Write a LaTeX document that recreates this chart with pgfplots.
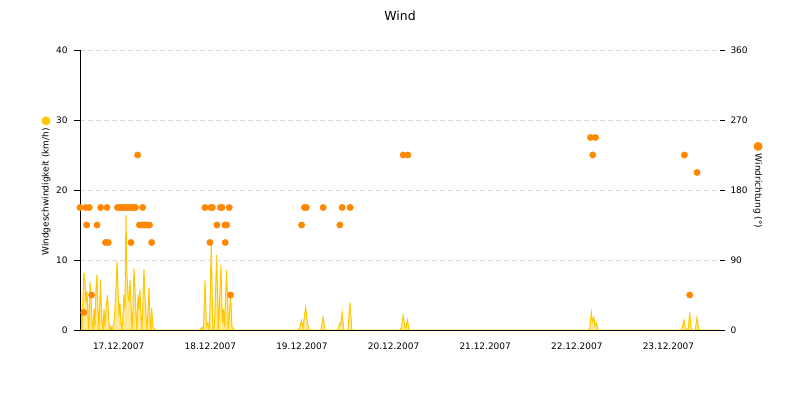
\documentclass[border=0pt]{standalone}
\usepackage{fontspec}
\setmainfont{DejaVu Sans}
\usepackage{pgfplots}
\usepackage{pgfplotstable}
\pgfplotsset{compat=1.18}

\definecolor{speed}{RGB}{255,200,0}
\definecolor{dir}{RGB}{255,136,0}
\definecolor{gridgray}{RGB}{217,217,217}

% hours since 17.12.2007 00:00, wind speed in km/h
\pgfplotstableread{
h v
0.37 0
0.63 3
0.89 0
1.15 5
1.41 8.2
1.68 7
1.94 4
2.20 5.5
2.46 2
2.72 0
2.98 6.8
3.25 5
3.51 1
3.77 0
4.03 3
4.29 0.5
4.56 6
4.82 7.9
5.08 3
5.34 0
5.73 7.2
6.13 1
6.39 0
6.65 3
6.91 0.5
7.17 3
7.57 5.0
7.96 1
8.22 0
8.48 0.5
8.74 0
9.01 0.5
9.27 1
9.53 3
9.79 6
10.05 9.8
10.31 6
10.58 2
10.84 3.8
11.10 1
11.36 0
11.62 2
11.89 5
12.15 3
12.41 16.4
12.67 8
12.93 5
13.19 4
13.46 7.1
13.72 4
13.98 0
14.24 3
14.50 8.8
14.77 6
15.03 2
15.29 0
15.55 5
15.81 3
16.07 5.8
16.34 2
16.60 0
16.86 4
17.12 8.7
17.38 5
17.65 2
17.91 0
18.17 3
18.43 6.1
18.69 1
18.95 0
19.14 3.2
19.48 0.5
20.00 0
31.78 0
32.31 0.4
32.70 0
33.09 7.1
33.48 0.5
33.87 1
34.27 0
34.74 12.1
35.18 0
35.58 0.5
36.15 10.7
36.63 0
37.28 9.3
37.67 1
37.94 3
38.20 0.5
38.77 8.6
39.24 0
39.82 5.3
40.16 0.5
40.68 0
57.44 0
57.96 0.3
58.36 1.4
58.75 0.3
59.48 3.3
59.93 1.0
60.32 0
63.46 0
64.04 1.8
64.51 0
67.91 0
68.44 1.0
68.70 0.8
69.04 2.5
69.48 0
70.53 0
71.10 3.9
71.58 0
84.14 0
84.53 0.3
85.01 2.1
85.45 0.4
85.71 0.3
86.16 1.4
86.50 0
133.64 0
133.90 0.3
134.29 2.5
134.55 1.2
134.95 1.8
135.29 0.5
135.66 1.0
136.00 0
157.84 0
158.10 0.3
158.57 1.4
158.94 0
159.67 0.2
160.07 2.5
160.41 0.3
160.72 0
161.51 0
161.98 1.8
162.35 0.2
162.69 0
168 0
}\speedtab

% hours since 17.12.2007 00:00, wind direction in degrees
\pgfplotstableread{
h deg
0.37 157.5
1.36 22.5
1.88 157.5
2.12 135
2.80 157.5
3.43 45
4.82 135
5.79 157.5
7.04 112.5
7.44 157.5
7.78 112.5
10.18 157.5
10.71 157.5
11.23 157.5
11.75 157.5
12.28 157.5
12.80 157.5
13.33 157.5
13.72 112.5
13.85 157.5
14.37 157.5
14.90 157.5
15.47 225
15.94 135
16.60 135
16.78 157.5
17.25 135
17.91 135
18.56 135
19.14 112.5
33.09 157.5
34.40 112.5
34.66 157.5
35.05 157.5
36.23 135
37.15 157.5
37.54 157.5
38.33 135
38.41 112.5
38.77 135
39.45 157.5
39.82 45
58.41 135
59.14 157.5
59.66 157.5
64.06 157.5
68.43 135
69.04 157.5
71.13 157.5
85.01 225
86.24 225
134.07 247.5
134.67 225
135.38 247.5
158.68 225
160.07 45
161.98 202.5
}\dirtab

\pgfplotsset{
  every tick label/.append style={font=\fontsize{9}{11}\selectfont, black},
  /pgf/number format/assume math mode=true,
}

\begin{document}
\begin{tikzpicture}[font=\fontsize{9}{11}\selectfont]
\path[use as bounding box] (-80bp,-70bp) rectangle (720bp,330bp);

\begin{axis}[
  at={(0,0)}, anchor=south west,
  scale only axis, width=640bp, height=280bp,
  xmin=0.37, xmax=168, ymin=0, ymax=40,
  axis on top,
  axis x line=bottom, axis y line=left,
  axis line style={-, black, line width=0.9bp},
  tick align=outside,
  every tick/.style={black, line width=0.9bp},
  major tick length=6bp, minor tick length=6bp,
  ytick={0,10,...,40},
  xtick={10.5,34.5,58.5,82.5,106.5,130.5,154.5},
  xticklabels={17.12.2007,18.12.2007,19.12.2007,20.12.2007,21.12.2007,22.12.2007,23.12.2007},
  x tick style={draw=none},
  minor xtick={24,48,72,96,120,144,168},
  minor x tick style={black, line width=0.9bp},
  xticklabel style={yshift=-3bp},
  yticklabel style={xshift=-3bp},
  ymajorgrids,
  grid style={gridgray, dash pattern=on 5bp off 3bp, line width=0.8bp},
]
\addplot[draw=speed, line width=1bp, fill=speed, fill opacity=0.4] table[x=h, y=v] {\speedtab} \closedcycle;
\end{axis}

\begin{axis}[
  at={(0,0)}, anchor=south west,
  scale only axis, width=640bp, height=280bp,
  xmin=0.37, xmax=168, ymin=0, ymax=360,
  axis x line=none, axis y line=right,
  y axis line style={draw=none},
  tick align=outside,
  every tick/.style={black, line width=0.9bp},
  major tick length=5bp,
  ytick={0,90,...,360},
  yticklabel style={xshift=2bp},
  clip=false,
]
\addplot[only marks, mark=*, mark size=3.2bp, color=dir, mark options={draw=none, fill=dir}] table[x=h, y=deg] {\dirtab};
\end{axis}

\node[font=\fontsize{12.5}{14}\selectfont] at (320bp,314bp) {Wind};
\node[rotate=90] at (-34bp,144bp) {Windgeschwindigkeit (km/h)\hspace{3bp}\tikz[baseline=-0.3em]\fill[speed] (0,0) circle (4.5bp);};
\node[rotate=-90] at (678bp,145bp) {\tikz[baseline=-0.3em]\fill[dir] (0,0) circle (4.5bp);\hspace{3bp}Windrichtung (°)};
\end{tikzpicture}
\end{document}
